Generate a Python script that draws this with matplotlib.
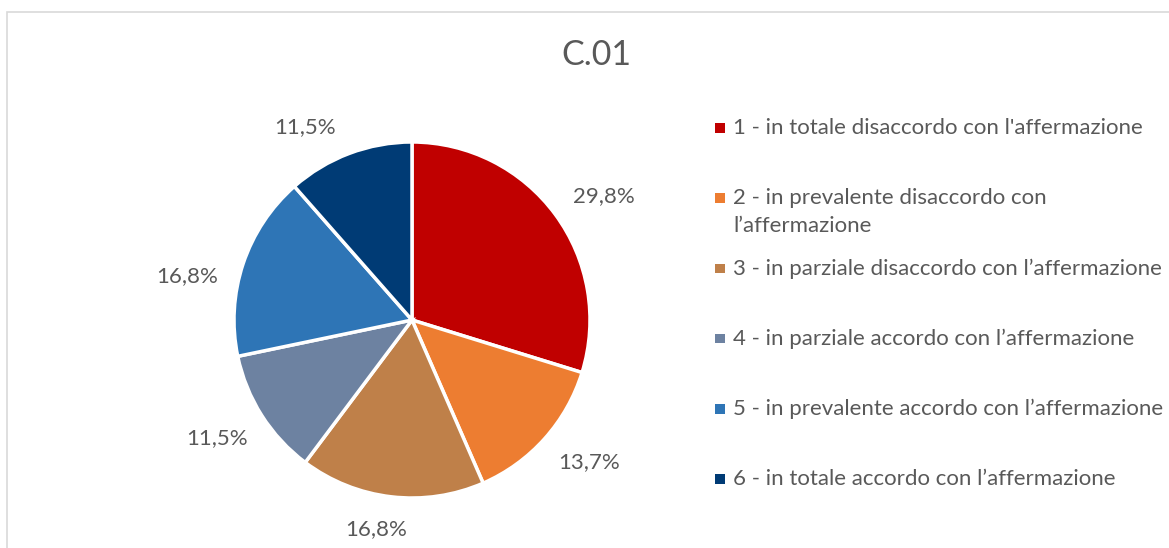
import numpy as np
import matplotlib
matplotlib.use("Agg")
import matplotlib.pyplot as plt
from matplotlib.patches import Rectangle

plt.rcParams["font.family"] = ["Lato", "DejaVu Sans"]

title = "C.01"
categories = [
    "1 - in totale disaccordo con l'affermazione",
    "2 - in prevalente disaccordo con\nl\u2019affermazione",
    "3 - in parziale disaccordo con l\u2019affermazione",
    "4 - in parziale accordo con l\u2019affermazione",
    "5 - in prevalente accordo con l\u2019affermazione",
    "6 - in totale accordo con l\u2019affermazione",
]
percentages = [29.8, 13.7, 16.8, 11.5, 16.8, 11.5]
colors = ["#C00000", "#ED7D31", "#BF8049", "#6D82A1", "#2E75B6", "#003B75"]
text_color = "#595959"

# "best fit" style nudges of the data labels (degrees along the rim)
label_nudge = [-3.6, 3.0, -3.2, -1.2, 7.5, 8.4]

W, H = 1169, 548
fig = plt.figure(figsize=(W / 100, H / 100), dpi=100)

# light chart frame (cut off at right/bottom like the screenshot)
fig.patches.append(Rectangle((7 / W, -0.1), 1.2, 1 - 12 / H + 0.1,
                             transform=fig.transFigure, fill=False,
                             edgecolor="#D9D9D9", linewidth=1.2))

fig.text(596 / W, 1 - 55 / H, title, ha="center", va="center",
         fontsize=24.5, color=text_color)

# pie, centre (412, 320) px, radius 178 px
cx, cy, r = 412, 320, 178
ax = fig.add_axes([(cx - r) / W, (H - cy - r) / H, 2 * r / W, 2 * r / H])
wedges, _ = ax.pie(
    percentages, colors=colors, startangle=90, counterclock=False, radius=1,
    wedgeprops=dict(edgecolor="white", linewidth=2.5),
)
ax.set_xlim(-1, 1)
ax.set_ylim(-1, 1)
ax.set_aspect("auto")
ax.axis("off")

# data labels outside the end, box kept a fixed gap off the rim
renderer = fig.canvas.get_renderer()
gap = 19 / r
for w, v, nudge in zip(wedges, percentages, label_nudge):
    t = ax.text(0, 0, f"{v:.1f}".replace(".", ",") + "%", ha="center",
                va="center", fontsize=16, color=text_color)
    bb = t.get_window_extent(renderer)
    hw, hh = bb.width / 2 / r, bb.height / 2 / r
    ang = np.deg2rad((w.theta1 + w.theta2) / 2 + nudge)
    d = 1 + gap + hw * abs(np.cos(ang)) + hh * abs(np.sin(ang))
    t.set_position((d * np.cos(ang), d * np.sin(ang)))

# legend: one slot per category, evenly spaced, marker beside first line
lx0, ly_top, slot = 712, 128, 70.2
n = len(categories)
lax = fig.add_axes([lx0 / W, 0, (W - lx0) / W, 1])
lax.set_xlim(0, W - lx0)
lax.set_ylim(H, 0)
lax.axis("off")
idx = np.arange(n)
lax.scatter(np.full(n, 8), ly_top + idx * slot, marker="s", s=46,
            c=colors, linewidths=0)
probe = lax.text(0, 0, categories[0], fontsize=16, va="center")
half_line = probe.get_window_extent(renderer).height / 2
probe.remove()
for i, lab in enumerate(categories):
    lax.text(21, ly_top + i * slot - half_line, lab, ha="left", va="top",
             fontsize=16, color=text_color, linespacing=1.5)

fig.savefig("out.png", dpi=100, facecolor="white")
